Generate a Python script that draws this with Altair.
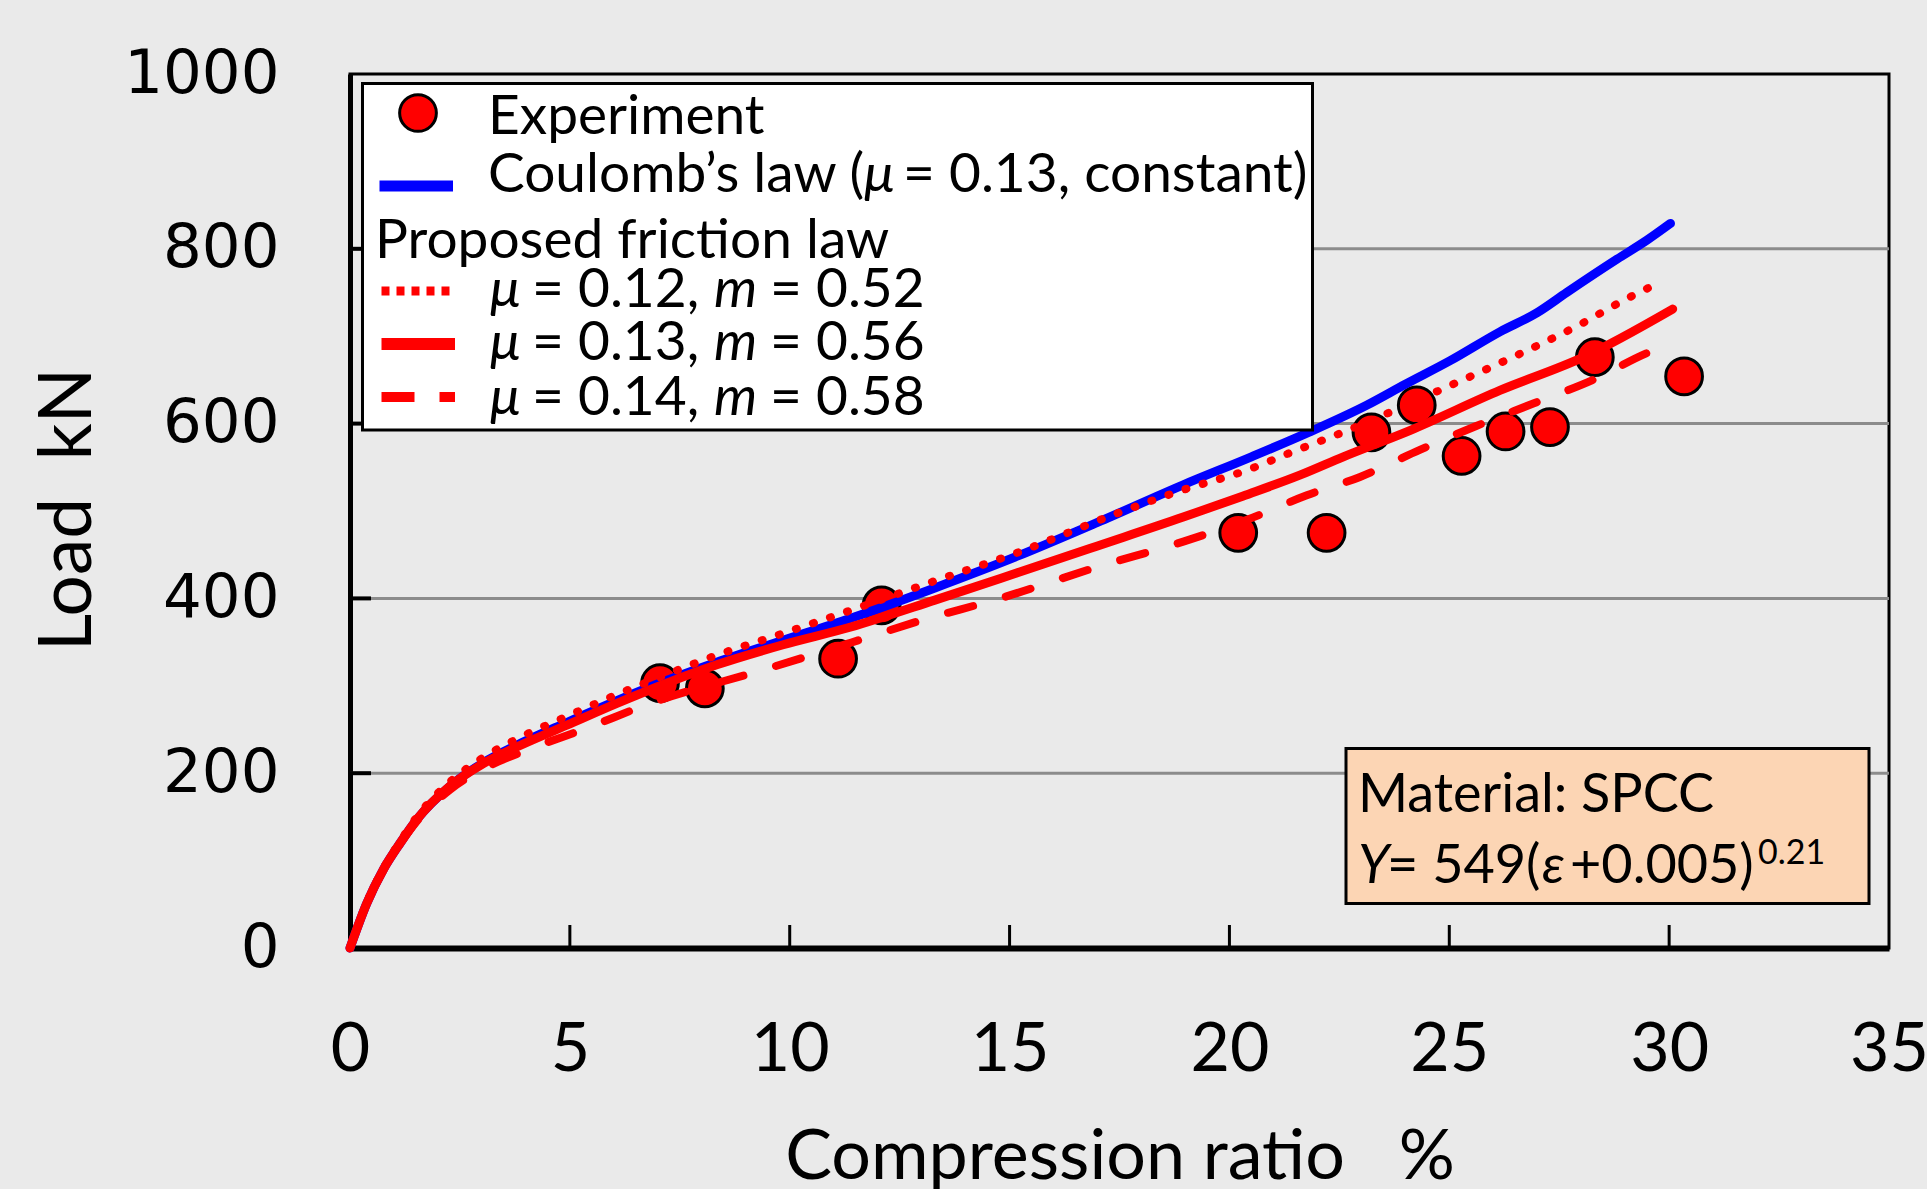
import altair as alt
import pandas as pd

# ---------------- data ----------------
exp_x = [7.05, 8.07, 11.1, 12.09, 20.2, 22.21, 23.23, 24.26, 25.28, 26.28, 27.29, 28.31, 30.34]
exp_y = [303, 297, 331, 392, 475, 475, 590, 621, 563, 591, 596, 676, 654]

coulomb_x = [0, 0.38, 0.76, 1.14, 1.52, 2.27, 3.03, 3.79, 4.93, 6.07, 7.2, 8.34, 9.85, 11.37,
             13.3, 15.16, 17.0, 18.95, 20.5, 21.8, 23.12, 24.0, 25.02, 26.15, 27.0, 27.67,
             28.81, 29.5, 30.03]
coulomb_y = [0, 51, 90, 120, 147, 185, 212, 232, 258, 283, 306, 327, 352, 377,
             412, 448, 487, 530, 562, 590, 621, 645, 672, 705, 727, 750,
             788, 810, 829]

p052_x = [0, 0.38, 0.76, 1.14, 1.52, 2.27, 3.03, 3.79, 4.93, 6.07, 7.2, 8.34, 9.85, 11.37,
          13.3, 15.16, 17.43, 19.0, 20.3, 21.6, 22.53, 23.7, 24.86, 26.4, 27.92, 29.04, 29.81]
p052_y = [0, 52, 91, 122, 150, 190, 218, 239, 265, 290, 313, 335, 360, 386,
          420, 452, 497, 525, 545, 571, 589, 614, 640, 675, 712, 743, 762]

p056_x = [0, 0.38, 0.76, 1.14, 1.52, 2.27, 3.03, 3.79, 4.93, 6.07, 7.2, 8.34, 9.85, 11.37,
          13.3, 15.16, 17.0, 18.95, 20.3, 21.6, 22.59, 24.1, 26.15, 28.05, 30.08]
p056_y = [0, 51, 90, 120, 147, 185, 211, 230, 255, 280, 303, 324, 347, 367,
          398, 429, 460, 493, 517, 541, 562, 592, 638, 676, 731]

p058_x = [0, 0.38, 0.76, 1.14, 1.52, 2.27, 3.03, 4.0, 5.3, 7.0, 9.25, 11.37, 13.0, 14.78,
          17.0, 18.95, 20.4, 21.76, 22.97, 24.33, 25.6, 26.91, 28.27, 29.56, 29.88]
p058_y = [0, 51, 89, 119, 145, 181, 205, 226, 250, 283, 316, 349, 375, 400,
          436, 465, 490, 518, 539, 570, 597, 623, 650, 682, 688]

x_ticks = [0, 5, 10, 15, 20, 25, 30, 35]
y_ticks = [0, 200, 400, 600, 800, 1000]
grid_vals = [200, 400, 600, 800]
inner_x_ticks = [5, 10, 15, 20, 25, 30]

# ---------------- layout ----------------
W, H = 1539, 874
LEFT, TOP = 350, 74
RED = "#FF0000"
BLUE = "#0000FF"
TXT_FONT = "Lato"
LEG_FS = 55
MAT_FS = 54

xs = alt.Scale(domain=[0, 35], nice=False, zero=False)
ys = alt.Scale(domain=[0, 1000], nice=False)

df_exp = pd.DataFrame({"x": exp_x, "y": exp_y})

def curve_df(xv, yv):
    return pd.DataFrame({"x": xv, "y": yv, "o": list(range(len(xv)))})

# base layer holds the axes
points = alt.Chart(df_exp).mark_point(
    shape="circle", filled=True, fill=RED, stroke="black", strokeWidth=3,
    size=1350, opacity=1
).encode(
    x=alt.X("x:Q", scale=xs, axis=alt.Axis(
        values=x_ticks, tickSize=0, grid=False, domainColor="black", domainWidth=6,
        labelFont=TXT_FONT, labelFontSize=68, labelColor="black",
        labelBaseline="alphabetic", labelPadding=122, labelFlush=False,
        title="Compression ratio\u00a0\u00a0\u00a0%", titleFont=TXT_FONT,
        titleFontSize=70, titleFontWeight="normal", titleColor="black",
        titleBaseline="alphabetic", titleY=230, titleX=W / 2, titleAlign="center")),
    y=alt.Y("y:Q", scale=ys, axis=alt.Axis(
        values=y_ticks, tickSize=0, grid=False, domainColor="black", domainWidth=5,
        labelFont="DejaVu Sans", labelFontSize=61, labelColor="black",
        labelPadding=71, labelFlush=False, format="d",
        title="Load\u00a0\u00a0kN", titleFont=TXT_FONT, titleFontSize=73,
        titleFontWeight="normal", titleColor="black", titleAngle=-90,
        titleBaseline="alphabetic", titleX=-260, titleY=435, titleAlign="center")),
)

grid = alt.Chart(pd.DataFrame({"g": grid_vals})).mark_rule(
    color="#8C8C8C", strokeWidth=3).encode(y=alt.Y("g:Q", scale=ys))

yticks = alt.Chart(pd.DataFrame({"g": grid_vals})).mark_rule(
    color="black", strokeWidth=4).encode(
    y=alt.Y("g:Q", scale=ys), x=alt.value(0), x2=alt.value(21))

xticks = alt.Chart(pd.DataFrame({"t": inner_x_ticks})).mark_rule(
    color="black", strokeWidth=3).encode(
    x=alt.X("t:Q", scale=xs), y=alt.value(H), y2=alt.value(H - 23))

def line(xv, yv, color, width, dash=None, cap="round"):
    kw = dict(color=color, strokeWidth=width, strokeCap=cap, strokeJoin="round",
              interpolate="monotone")
    if dash is not None:
        kw["strokeDash"] = dash
    return alt.Chart(curve_df(xv, yv)).mark_line(**kw).encode(
        x=alt.X("x:Q", scale=xs), y=alt.Y("y:Q", scale=ys), order="o:Q")

l_coul = line(coulomb_x, coulomb_y, BLUE, 9)
l_052 = line(p052_x, p052_y, RED, 8, dash=[1, 17])
l_056 = line(p056_x, p056_y, RED, 9)
l_058 = line(p058_x, p058_y, RED, 8, dash=[26, 34])

one = pd.DataFrame({"a": [0]})

def text(t, x, y, size=LEG_FS, style="normal", font=TXT_FONT, align="left"):
    return alt.Chart(pd.DataFrame({"t": [t]})).mark_text(
        align=align, baseline="alphabetic", font=font, fontSize=size,
        fontStyle=style, color="black").encode(
        x=alt.value(x), y=alt.value(y), text="t:N")

def rect(x1, y1, x2, y2, fill, sw=3):
    return alt.Chart(one).mark_rect(fill=fill, stroke="black", strokeWidth=sw).encode(
        x=alt.value(x1), x2=alt.value(x2), y=alt.value(y1), y2=alt.value(y2))

def sample(y, color, width, dash=None, x1=29.5, x2=103):
    kw = dict(color=color, strokeWidth=width, strokeCap="butt")
    if dash is not None:
        kw["strokeDash"] = dash
    return alt.Chart(one).mark_rule(**kw).encode(
        x=alt.value(x1), x2=alt.value(x2), y=alt.value(y))

# legend
leg_layers = [
    rect(12.5, 9.5, 962.5, 356, "white", 3),
    alt.Chart(one).mark_point(shape="circle", filled=True, fill=RED, stroke="black",
                              strokeWidth=3, size=1350, opacity=1).encode(
        x=alt.value(68), y=alt.value(39)),
    text("Experiment", 138, 60),
    sample(112, BLUE, 11),
    text("Coulomb\u2019s law (", 138, 118),
    text("\u03bc", 514, 118, style="italic"),
    text("= 0.13, constant)", 553, 118),
    text("Proposed friction law", 25, 184),
    sample(217, RED, 9, dash=[8, 7], x1=31.5, x2=105),
    sample(270, RED, 12, x1=31.5, x2=105),
    sample(323, RED, 10, dash=[33, 25], x1=31.5, x2=105),
]
for yb, mu, mm in [(233, "0.12,", "0.52"), (286, "0.13,", "0.56"), (341, "0.14,", "0.58")]:
    leg_layers += [
        text("\u03bc", 140, yb, style="italic"),
        text("= " + mu, 182, yb),
        text("m", 364, yb, style="italic"),
        text("= " + mm, 420, yb),
    ]

# material box
mat_layers = [
    rect(996, 674.5, 1519, 829.5, "#FCD5B4", 3),
    text("Material: SPCC", 1008, 738, size=MAT_FS),
    text("Y", 1008, 809, size=MAT_FS, style="italic"),
    text("= 549(", 1037, 809, size=MAT_FS),
    text("\u03b5", 1192, 809, size=MAT_FS, style="italic"),
    text("+0.005)", 1220, 809, size=MAT_FS),
    text("0.21", 1408, 790, size=34),
]

chart = alt.layer(
    grid, yticks, xticks, points, l_coul, l_052, l_058, l_056,
    *leg_layers, *mat_layers
).properties(
    width=W, height=H,
    padding={"left": LEFT, "top": TOP, "right": 1927 - LEFT - W, "bottom": 1189 - TOP - H},
    autosize=alt.AutoSizeParams(type="none"),
).configure(background="#EAEAEA").configure_view(
    fill="#EAEAEA", stroke="black", strokeWidth=3)

chart.save("out.html", embed_options={"renderer": "svg", "actions": False})
